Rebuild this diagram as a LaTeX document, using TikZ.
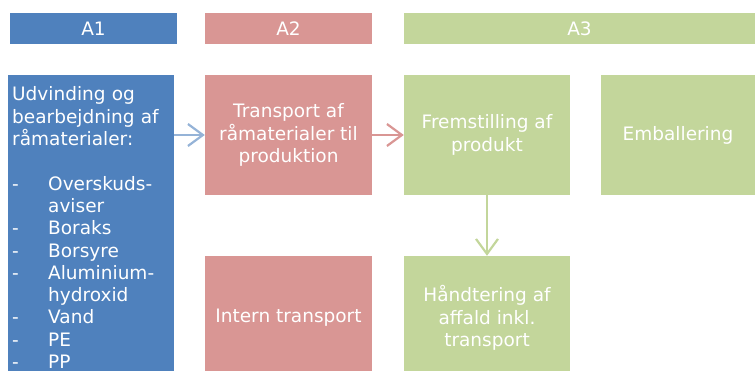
\documentclass[tikz,border=0pt]{standalone}
\usepackage{fontspec}
\setmainfont{DejaVu Sans}
\usetikzlibrary{arrows.meta}
\definecolor{aBlue}{HTML}{4F81BD}
\definecolor{aBlueLt}{HTML}{95B3D7}
\definecolor{aRose}{HTML}{D99694}
\definecolor{aGreen}{HTML}{C3D69B}
\tikzset{
  hdr/.style={inner sep=0pt, minimum height=31pt, text=white,
    font=\fontsize{18.5}{20}\selectfont},
  step box/.style={inner sep=4pt, minimum width=166pt, text=white,
    align=center, font=\fontsize{18.5}{22.3}\selectfont},
  flow/.style={line width=2.2pt, -{Straight Barb[length=15pt,width=22pt]}}
}

\begin{document}
\begin{tikzpicture}[x=1pt,y=-1pt]
	\useasboundingbox (0,0) rectangle (755,371);
	
	%%% headers
	\node[hdr, fill=aBlue, minimum width=167pt] (hA1) at (93.5,28.5) {A1};
	\node[hdr, fill=aRose, minimum width=167pt] (hA2) at (288.5,28.5) {A2};
	\node[hdr, fill=aGreen, minimum width=351pt] (hA3) at (579.5,28.5) {A3};
	
	%%% A1
	\node[step box, fill=aBlue, anchor=north west, minimum height=305pt,
	  text width=158pt, align=left] (raw) at (8,75)
	  {Udvinding og\\bearbejdning af\\råmaterialer:\\[22.3pt]
	   \makebox[36pt][l]{-}Overskuds-\\\makebox[36pt][l]{}aviser\\
	   \makebox[36pt][l]{-}Boraks\\
	   \makebox[36pt][l]{-}Borsyre\\
	   \makebox[36pt][l]{-}Aluminium-\\\makebox[36pt][l]{}hydroxid\\
	   \makebox[36pt][l]{-}Vand\\
	   \makebox[36pt][l]{-}PE\\
	   \makebox[36pt][l]{-}PP};
	
	%%% A2
	\node[step box, fill=aRose, minimum width=167pt, minimum height=120pt] (trans) at (288.5,135)
	  {Transport af\\råmaterialer til\\produktion};
	\node[step box, fill=aRose, minimum width=167pt, minimum height=124pt] (intern) at (288.5,318)
	  {Intern transport};
	
	%%% A3
	\node[step box, fill=aGreen, minimum height=120pt] (prod) at (487,135)
	  {Fremstilling af\\produkt};
	\node[step box, fill=aGreen, minimum width=154pt, minimum height=120pt] (pack) at (678,135)
	  {Emballering};
	\node[step box, fill=aGreen, minimum height=124pt] (waste) at (487,318)
	  {Håndtering af\\affald inkl.\\transport};
	
	%%% arrows
	\draw[flow, draw=aBlueLt] (raw.east |- trans.west) -- (trans.west);
	\draw[flow, draw=aRose] (trans.east) -- (prod.west);
	\draw[flow, draw=aGreen] (prod.south) -- (waste.north);
\end{tikzpicture}
\end{document}
